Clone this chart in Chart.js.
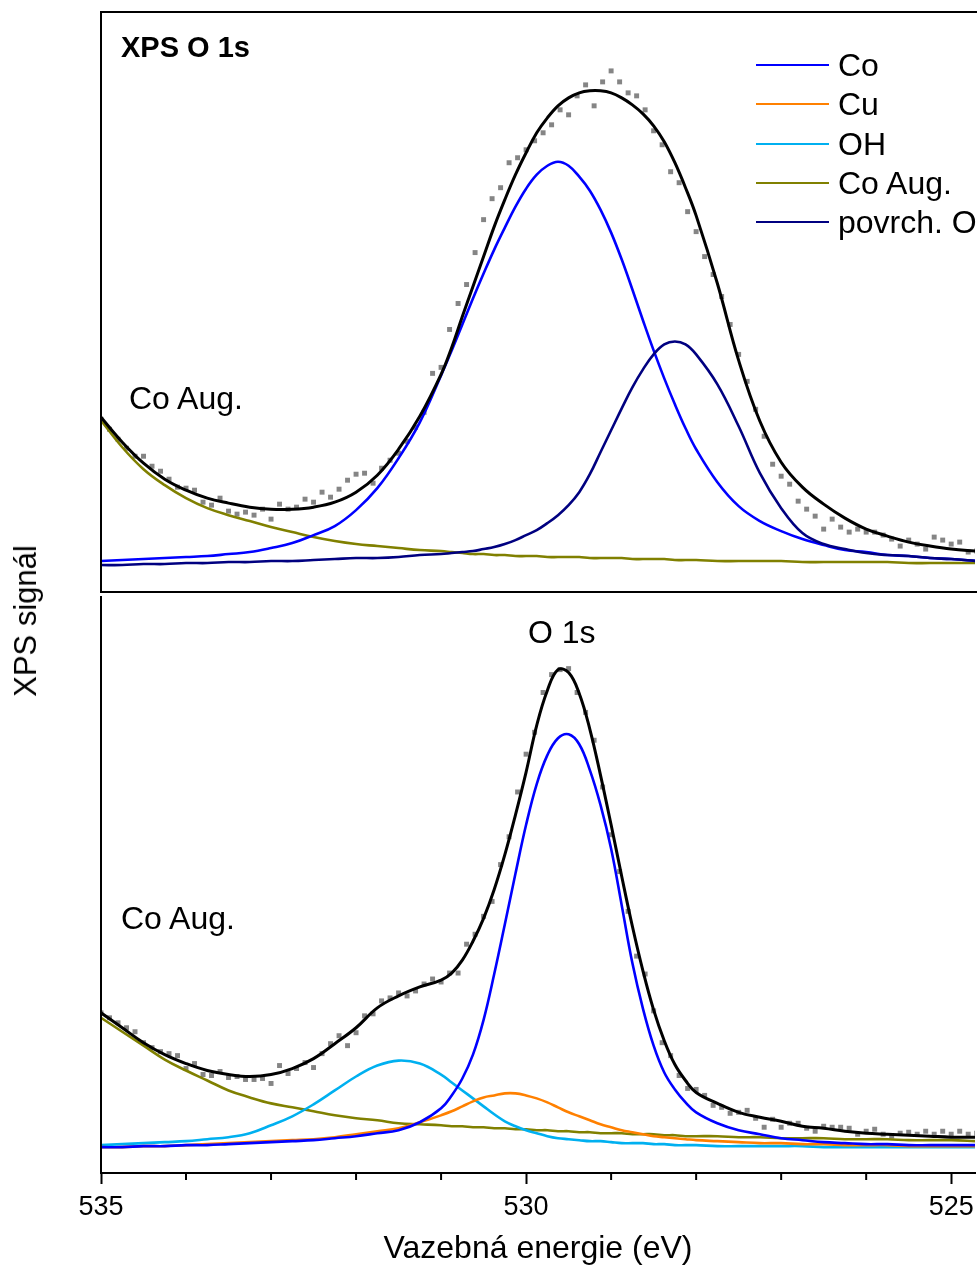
<!DOCTYPE html>
<html><head><meta charset="utf-8">
<script src="https://cdn.jsdelivr.net/npm/chart.js@4/dist/chart.umd.min.js"></script>
<style>
body{margin:0;background:#fff;}
#wrap{position:relative;width:979px;height:1268px;overflow:hidden;background:#fff;font-family:"Liberation Sans",Arial,sans-serif;color:#000;}
canvas{position:absolute;left:0;}
.t{position:absolute;white-space:nowrap;line-height:36px;font-size:32px;}
.lg{position:absolute;left:756px;width:73px;height:2px;}
</style></head><body>
<div id="wrap">
<canvas id="cTop" width="979" height="596" style="top:0"></canvas>
<canvas id="cBot" width="979" height="676" style="top:592px"></canvas>
<div class="t" style="left:121px;top:29px;font-weight:bold;font-size:29px;">XPS O 1s</div>
<div class="t" style="left:129px;top:380px;">Co Aug.</div>
<div class="t" style="left:528px;top:614px;">O 1s</div>
<div class="t" style="left:121px;top:900px;">Co Aug.</div>
<div class="t" style="left:26px;top:621px;font-size:31px;transform:translate(-50%,-50%) rotate(-90deg);">XPS signál</div>
<div id="legend"></div>
</div>
<script>
// Binding energy grids (eV)
const energy = [535, 534.75, 534.5, 534.25, 534, 533.75, 533.5, 533.25, 533, 532.75, 532.5, 532.25, 532, 531.75, 531.5, 531.25, 531,
  530.875, 530.75, 530.625, 530.5, 530.375, 530.25, 530.125, 530, 529.875, 529.75, 529.625, 529.5, 529.375, 529.25, 529.125, 529,
  528.875, 528.75, 528.625, 528.5, 528.375, 528.25, 528.125, 528,
  527.75, 527.5, 527.25, 527, 526.75, 526.5, 526.25, 526, 525.75, 525.5, 525.25, 525, 524.7];
const energyMeasured = [535.0, 534.9, 534.8, 534.7, 534.6, 534.5, 534.4, 534.3, 534.2, 534.1,
  534.0, 533.9, 533.8, 533.7, 533.6, 533.5, 533.4, 533.3, 533.2, 533.1,
  533.0, 532.9, 532.8, 532.7, 532.6, 532.5, 532.4, 532.3, 532.2, 532.1,
  532.0, 531.9, 531.8, 531.7, 531.6, 531.5, 531.4, 531.3, 531.2, 531.1,
  531.0, 530.9, 530.8, 530.7, 530.6, 530.5, 530.4, 530.3, 530.2, 530.1,
  530.0, 529.9, 529.8, 529.7, 529.6, 529.5, 529.4, 529.3, 529.2, 529.1,
  529.0, 528.9, 528.8, 528.7, 528.6, 528.5, 528.4, 528.3, 528.2, 528.1,
  528.0, 527.9, 527.8, 527.7, 527.6, 527.5, 527.4, 527.3, 527.2, 527.1,
  527.0, 526.9, 526.8, 526.7, 526.6, 526.5, 526.4, 526.3, 526.2, 526.1,
  526.0, 525.9, 525.8, 525.7, 525.6, 525.5, 525.4, 525.3, 525.2, 525.1,
  525.0, 524.9, 524.8, 524.7];

// Top panel (XPS O 1s), signal in arbitrary units
const topMeasured = [173,163,153,144,136,136,126,121,113,105,
  104,102,90,87,94,81,78,80,77,83,
  73,88,83,85,93,90,100,95,103,112,
  118,119,109,124,132,139,151,165,180,219,
  225,263,289,308,340,373,394,405,430,435,
  443,452,460,468,483,478,497,508,487,511,
  522,511,500,497,483,462,448,421,410,381,
  361,336,318,296,268,238,211,183,156,128,
  116,108,91,83,76,63,73,65,60,63,
  60,60,57,53,46,52,48,43,55,52,
  48,50,40,41];
const topFit = [175,150,129,113,102,94,89,85,83,83,85,90,100,117,143,176,218,
  245,276,306,336,366,393,418,440,460,475,487,495,500,502,502,500,495,488,479,467,451,430,405,377,
  309,232,171,130,105,88,74,63,56,50,46,43,41];
const topCo = [31,32,33,34,35,36,38,40,44,49,57,66,82,104,134,170,217,
  242,268,294,319,343,365,386,404,418,427,431,427,416,402,383,360,333,303,272,242,214,188,164,143,
  110,86,71,61,53,47,42,40,37,36,34,33,31];
const topPovrch = [27,27,28,28,29,29,30,30,31,31,32,33,34,34,35,37,38,
  39,40,41,43,45,48,52,57,62,69,77,87,100,118,140,162,184,205,223,238,248,251,248,238,
  208,166,119,84,59,48,43,39,37,36,34,33,31];
const topCoAug = [172,145,123,107,94,84,77,71,65,60,55,51,48,46,44,42,41,
  40,39,38,38,37,37,36,36,36,35,35,35,35,34,34,34,34,33,33,33,33,32,32,32,
  31,31,31,31,30,30,30,30,30,29,29,29,29];

// Bottom panel (O 1s)
const botMeasured = [161,156,151,146,142,131,126,122,120,118,
  105,110,99,98,102,96,97,94,94,95,
  90,108,100,105,111,106,120,130,138,128,
  141,158,160,173,176,181,178,183,190,195,
  192,201,201,230,240,258,273,310,338,383,
  421,443,483,501,506,507,483,463,435,388,
  340,303,263,218,200,163,131,118,98,85,
  84,78,68,66,60,61,63,55,46,54,
  46,50,50,45,42,47,46,46,45,39,
  42,44,39,37,40,41,39,42,39,42,
  39,42,39,40];
const botFit = [161,146,131,119,110,103,99,97,99,105,115,130,146,166,178,187,194,
  201,214,233,256,285,320,360,403,450,485,506,503,482,446,400,350,298,248,203,164,133,109,93,81,
  70,61,56,52,47,45,42,40,39,38,37,36,36];
const botCo = [26,26,27,27,28,28,29,30,31,32,33,35,37,40,43,51,65,
  78,95,119,154,200,250,301,350,391,420,437,441,431,405,370,326,269,211,165,128,101,84,71,61,
  50,43,39,35,33,31,30,29,29,28,28,28,28];
const botCu = [26,26,27,27,28,29,30,31,32,33,34,36,39,42,45,51,58,
  62,67,72,76,78,80,80,78,75,71,66,61,57,53,49,46,43,41,39,37,36,35,34,33,
  32,31,30,30,29,29,28,28,28,27,27,27,27];
const botOH = [28,29,30,31,32,34,36,40,48,57,69,83,97,108,113,110,99,
  91,83,75,67,59,52,47,43,40,37,35,34,33,32,32,31,30,30,30,29,29,28,28,28,
  27,27,27,27,27,26,26,26,26,26,26,26,26];
const botCoAug = [156,142,128,114,103,93,83,76,70,66,62,58,55,53,50,49,48,
  47,47,46,46,45,45,44,44,43,43,42,42,41,41,40,40,40,39,39,39,38,38,37,37,
  37,36,36,35,35,35,34,34,34,33,33,33,32];

// Axis ticks
const tickValues = [525,526,527,528,529,530,531,532,533,534,535];
const majorTicks = [525,530,535];

// Series names & colours
const names = ['Co','Cu','OH','Co Aug.','povrch. O'];
const colors = {'Co':'#0000ff','Cu':'#ff8000','OH':'#00b0f0','Co Aug.':'#808000','povrch. O':'#000080'};

const FONT = '"Liberation Sans", Arial, sans-serif';
const pts = (xs, ys) => ys.map((y, i) => ({x: xs[i], y}));
const curve = (label, xs, ys, color, order, w) => ({
  label, data: pts(xs, ys), borderColor: color, backgroundColor: color,
  borderWidth: w || 2.6, pointRadius: 0, fill: false, tension: 0.4, order
});
const measured = (ys) => ({
  label: 'data', data: pts(energyMeasured, ys), showLine: false,
  pointStyle: 'rect', pointRadius: 3.5, pointBorderWidth: 0,
  pointBackgroundColor: '#858585', pointBorderColor: '#858585', order: 10
});

// legend (HTML)
const lg = document.getElementById('legend');
names.forEach((n, i) => {
  const y = 65 + i * 39.3;
  const l = document.createElement('div');
  l.className = 'lg'; l.style.top = (y - 1) + 'px'; l.style.background = colors[n];
  lg.appendChild(l);
  const t = document.createElement('div');
  t.className = 't'; t.style.left = '838px'; t.style.top = (y - 18) + 'px'; t.textContent = n;
  lg.appendChild(t);
});

const topFrame = {
  id: 'topFrame',
  afterDraw(chart) {
    const {ctx, chartArea: a} = chart;
    ctx.save(); ctx.strokeStyle = '#000'; ctx.lineWidth = 2;
    ctx.beginPath();
    ctx.moveTo(a.right + 2, a.top); ctx.lineTo(a.left, a.top); ctx.lineTo(a.left, a.bottom); ctx.lineTo(a.right + 2, a.bottom);
    ctx.stroke(); ctx.restore();
  }
};
const botFrame = {
  id: 'botFrame',
  afterDraw(chart) {
    const {ctx, chartArea: a} = chart; const x = chart.scales.x;
    ctx.save(); ctx.strokeStyle = '#000'; ctx.lineWidth = 2;
    ctx.beginPath(); ctx.moveTo(a.left, a.top); ctx.lineTo(a.left, a.bottom); ctx.stroke();
    tickValues.filter(v => !majorTicks.includes(v)).forEach(v => {
      const px = x.getPixelForValue(v);
      ctx.beginPath(); ctx.moveTo(px, a.bottom); ctx.lineTo(px, a.bottom + 7); ctx.stroke();
    });
    ctx.restore();
  }
};

const baseOptions = (yMax, padding, xScale) => ({
  responsive: false, animation: false, devicePixelRatio: 1,
  layout: {padding},
  plugins: {legend: {display: false}, tooltip: {enabled: false}},
  scales: {
    x: xScale,
    y: {type: 'linear', min: 0, max: yMax, display: false}
  }
});

new Chart(document.getElementById('cTop'), {
  type: 'line',
  data: {datasets: [
    curve('fit', energy, topFit, '#000000', 0, 3),
    curve('povrch. O', energy, topPovrch, colors['povrch. O'], 1),
    curve('Co', energy, topCo, colors['Co'], 2),
    curve('Co Aug.', energy, topCoAug, colors['Co Aug.'], 3),
    measured(topMeasured)
  ]},
  options: baseOptions(581, {left: 101, top: 12, right: 0, bottom: 3},
    {type: 'linear', reverse: true, min: 524.72, max: 535, display: false}),
  plugins: [topFrame]
});

new Chart(document.getElementById('cBot'), {
  type: 'line',
  data: {datasets: [
    curve('fit', energy, botFit, '#000000', 0, 3),
    curve('Co', energy, botCo, colors['Co'], 1),
    curve('Cu', energy, botCu, colors['Cu'], 2),
    curve('OH', energy, botOH, colors['OH'], 3),
    curve('Co Aug.', energy, botCoAug, colors['Co Aug.'], 4),
    measured(botMeasured)
  ]},
  options: baseOptions(580, {left: 101, top: 1, right: 0, bottom: 0}, {
    type: 'linear', reverse: true, min: 524.72, max: 535, display: true,
    afterBuildTicks: s => { s.ticks = tickValues.map(v => ({value: v})); },
    afterFit: s => { s.height = 95; },
    ticks: {autoSkip: false, maxRotation: 0, minRotation: 0, padding: 7, color: '#000',
      font: {family: FONT, size: 27},
      callback: v => majorTicks.includes(v) ? String(v) : ''},
    grid: {drawOnChartArea: false, drawTicks: true, tickLength: 11, tickWidth: 2,
      tickColor: c => (c.tick && majorTicks.includes(c.tick.value)) ? '#000' : 'rgba(0,0,0,0)'},
    border: {display: true, color: '#000', width: 2},
    title: {display: true, text: 'Vazebná energie (eV)', color: '#000',
      font: {family: FONT, size: 32}, padding: {top: 0, bottom: 0}}
  }),
  plugins: [botFrame]
});
</script>
</body></html>
